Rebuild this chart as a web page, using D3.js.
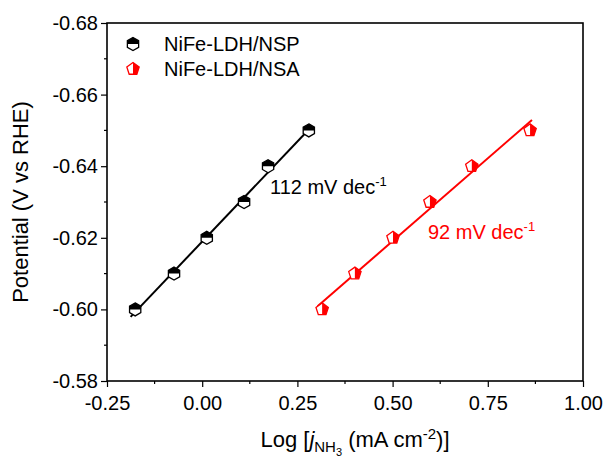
<!DOCTYPE html>
<html lang="en">
<head>
    <meta charset="UTF-8">
    <title>Tafel plot</title>
    <script src="https://d3js.org/d3.v7.min.js"></script>
    <style>
        body { margin: 0; background: #fff; }
        text { font-family: "Liberation Sans", Arial, sans-serif; }
    </style>
</head>
<body>
    <svg width="611" height="464"></svg>
    <script>
        // data
        const nspX = [-0.176, -0.074, 0.012, 0.110, 0.173, 0.280];
        const nspY = [-0.600, -0.610, -0.620, -0.630, -0.640, -0.650];
        const nsaX = [0.315, 0.401, 0.501, 0.598, 0.708, 0.861];
        const nsaY = [-0.600, -0.610, -0.620, -0.630, -0.640, -0.650];
        const seriesNames = ["NiFe-LDH/NSP", "NiFe-LDH/NSA"];
        const slopeLabels = ["112 mV dec", "92 mV dec"];
        const xTicks = [-0.25, 0, 0.25, 0.5, 0.75, 1.0];
        const yTicks = [-0.58, -0.60, -0.62, -0.64, -0.66, -0.68];

        const margin = {left: 107, top: 23, right: 28, bottom: 83};
        const width = 611 - margin.left - margin.right;
        const height = 464 - margin.top - margin.bottom;

        const svg = d3.select("svg");
        const g = svg.append("g").attr("transform", `translate(${margin.left},${margin.top})`);

        const x = d3.scaleLinear().domain([-0.25, 1.0]).range([0, width]);
        const y = d3.scaleLinear().domain([-0.58, -0.68]).range([height, 0]);

        // minor ticks
        const xMinor = d3.range(-0.125, 1.0, 0.25);
        const yMinor = d3.range(-0.59, -0.68, -0.02);
        g.selectAll(".xm").data(xMinor).enter().append("line")
            .attr("x1", d => x(d)).attr("x2", d => x(d))
            .attr("y1", height).attr("y2", height + 3)
            .attr("stroke", "#000").attr("stroke-width", 1.2);
        g.selectAll(".ym").data(yMinor).enter().append("line")
            .attr("x1", 0).attr("x2", -3)
            .attr("y1", d => y(d)).attr("y2", d => y(d))
            .attr("stroke", "#000").attr("stroke-width", 1.2);

        const fmt = d => d.toFixed(2);
        const xAxis = g.append("g").attr("transform", `translate(0,${height})`)
            .call(d3.axisBottom(x).tickValues(xTicks).tickFormat(fmt).tickSize(6).tickPadding(7));
        const yAxis = g.append("g")
            .call(d3.axisLeft(y).tickValues(yTicks).tickFormat(fmt).tickSize(6).tickPadding(3));
        [xAxis, yAxis].forEach(a => {
            a.select(".domain").remove();
            a.selectAll("line").attr("stroke-width", 1.2);
            a.selectAll("text").attr("font-size", 20).attr("fill", "#000")
                .style("font-family", "'Liberation Sans', Arial, sans-serif");
        });
        xAxis.selectAll("text").attr("dy", "0.8em");

        // frame
        g.append("rect").attr("width", width).attr("height", height)
            .attr("fill", "none").attr("stroke", "#000").attr("stroke-width", 1.6);

        // fitted lines
        function fit(xs, ys) {
            const mx = d3.mean(xs), my = d3.mean(ys);
            let num = 0, den = 0;
            xs.forEach((v, i) => { num += (v - mx) * (ys[i] - my); den += (v - mx) * (v - mx); });
            const b = num / den;
            return v => my + b * (v - mx);
        }
        const series = [
            {xs: nspX, ys: nspY, color: "#000", shape: "hex"},
            {xs: nsaX, ys: nsaY, color: "#f00", shape: "pent"}
        ];
        series.forEach(s => {
            const f = fit(s.xs, s.ys);
            const x0 = d3.min(s.xs) - 0.012, x1 = d3.max(s.xs) + 0.005;
            g.append("line")
                .attr("x1", x(x0)).attr("y1", y(f(x0)))
                .attr("x2", x(x1)).attr("y2", y(f(x1)))
                .attr("stroke", s.color).attr("stroke-width", 2);
        });

        // marker shapes
        function poly(n, r, rot) {
            return d3.range(n).map(i => {
                const a = rot + i * 2 * Math.PI / n;
                return [r * Math.sin(a), -r * Math.cos(a)];
            });
        }
        function drawMarker(sel, shape, color) {
            if (shape === "hex") {
                const pts = poly(6, 6.5, 0);
                sel.append("polygon").attr("points", pts.map(p => p.join(",")).join(" "))
                    .attr("fill", "#fff").attr("stroke", color).attr("stroke-width", 1.3);
                // top half filled
                const top = [[pts[4][0], 0], pts[5], pts[0], pts[1], [pts[1][0], 0]];
                sel.append("polygon").attr("points", top.map(p => p.join(",")).join(" "))
                    .attr("fill", color);
            } else {
                const pts = poly(5, 6.5, 0);
                sel.append("polygon").attr("points", pts.map(p => p.join(",")).join(" "))
                    .attr("fill", "#fff").attr("stroke", color).attr("stroke-width", 1.3);
                // right half filled
                const right = [pts[0], pts[1], pts[2], [0, pts[2][1]]];
                sel.append("polygon").attr("points", right.map(p => p.join(",")).join(" "))
                    .attr("fill", color);
            }
        }
        series.forEach(s => {
            s.xs.forEach((v, i) => {
                const m = g.append("g").attr("transform", `translate(${x(v)},${y(s.ys[i])})`);
                drawMarker(m, s.shape, s.color);
            });
        });

        // legend
        const legY = [44, 69];
        series.forEach((s, i) => {
            const m = svg.append("g").attr("transform", `translate(133,${legY[i]})`);
            drawMarker(m, s.shape, s.color);
            svg.append("text").attr("x", 164).attr("y", legY[i] + 7)
                .attr("font-size", 20).attr("fill", "#000").text(seriesNames[i]);
        });

        // slope annotations
        const ann = [{x: 270, y: 194, color: "#000"}, {x: 428, y: 239, color: "#f00"}];
        ann.forEach((a, i) => {
            const t = svg.append("text").attr("x", a.x).attr("y", a.y)
                .attr("font-size", 20).attr("fill", a.color);
            t.append("tspan").text(slopeLabels[i]);
            t.append("tspan").attr("dy", -8).attr("font-size", 13).text("-1");
        });

        // axis titles
        svg.append("text")
            .attr("transform", `translate(28,${margin.top + height / 2}) rotate(-90)`)
            .attr("text-anchor", "middle").attr("font-size", 22).attr("fill", "#000")
            .text("Potential (V vs RHE)");

        const xt = svg.append("text").attr("x", 355).attr("y", 447)
            .attr("text-anchor", "middle").attr("font-size", 22).attr("fill", "#000");
        xt.append("tspan").text("Log [");
        xt.append("tspan").attr("font-style", "italic").text("j");
        xt.append("tspan").attr("font-size", 15).attr("dy", 5).text("NH");
        xt.append("tspan").attr("font-size", 11).attr("dy", 4).text("3");
        xt.append("tspan").attr("dy", -9).text(" (mA cm");
        xt.append("tspan").attr("font-size", 15).attr("dy", -8).text("-2");
        xt.append("tspan").attr("dy", 8).text(")]");
    </script>
</body>
</html>
